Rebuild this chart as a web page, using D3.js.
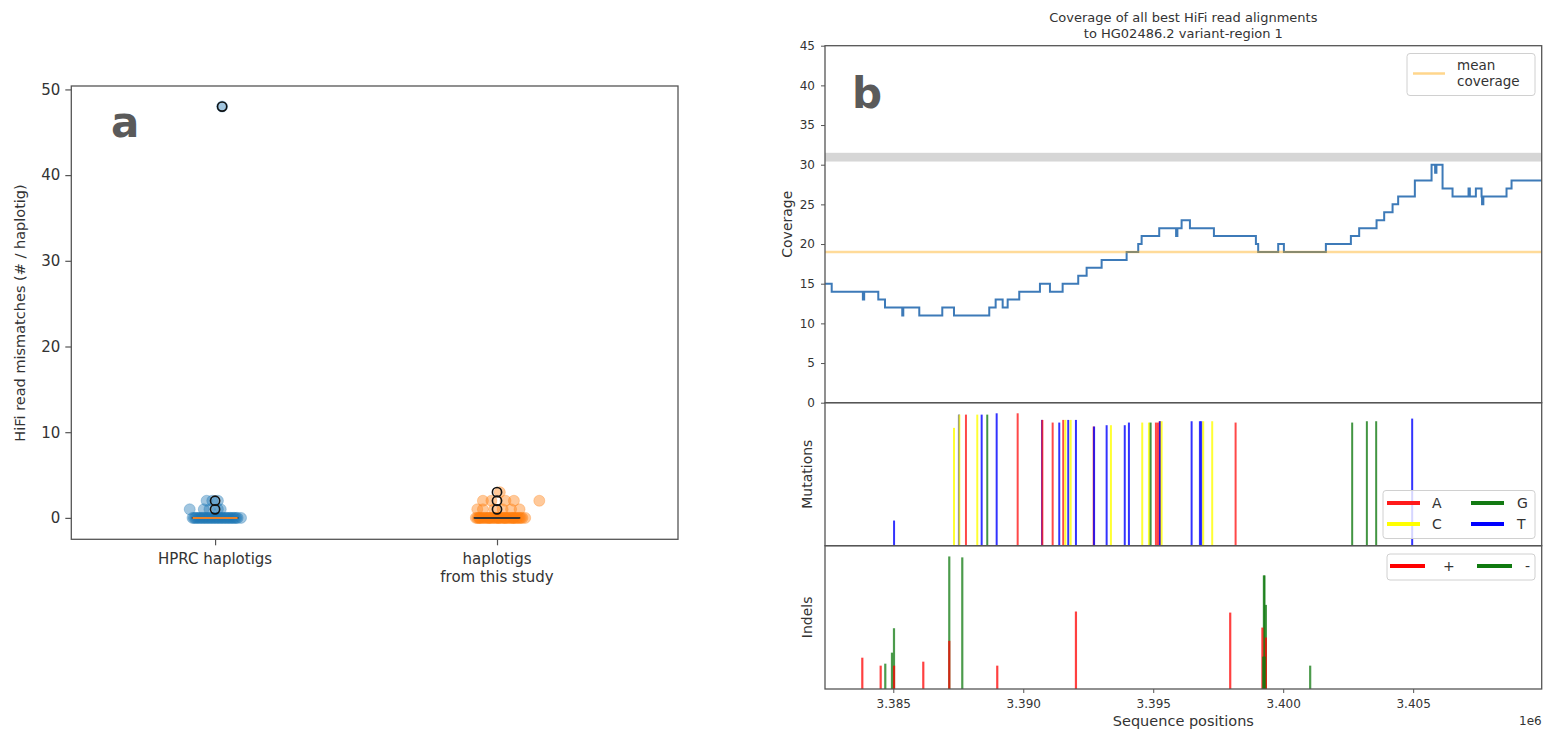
<!DOCTYPE html>
<html><head><meta charset="utf-8">
<script src="https://cdn.jsdelivr.net/npm/d3@7"></script>
<style>
body{margin:0;background:#fff}
svg{display:block}
text{font-family:"DejaVu Sans",sans-serif;fill:#333}
</style>
</head><body>
<svg id="c" width="1554" height="732"></svg>
<script>
// ---------- Panel a data ----------
const groups = ["HPRC haplotigs", "haplotigs\nfrom this study"];
const hprcValues = [0,0,0,0,0,0,0,0,0,0,0,0,0,0,0,0,0,0,0,0,0,0,0,0,0,0,0,0,0,0,0,0,0,0, 1,1,1,1,1, 2,2,2, 48];
const hprcJitter = [-0.08,-0.07,-0.06,-0.05,-0.04,-0.035,-0.03,-0.02,-0.015,-0.01,-0.005,0,0.005,0.01,0.015,0.02,0.025,0.03,0.04,0.045,0.05,0.06,0.07,0.08,0.092,-0.065,0.035,-0.025,-0.045,0.055,-0.055,0.065,0.075,-0.075, -0.09,-0.04,-0.02,0.01,0.02, -0.03,-0.01,0.01, 0.025];
const studyValues = [0,0,0,0,0,0,0,0,0,0,0,0,0,0,0,0,0,0,0,0,0,0,0,0,0,0,0,0,0,0,0,0,0,0,0,0,0,0,0,0, 1,1,1,1,1,1, 2,2,2,2,2, 3];
const studyJitter = [-0.07,-0.065,-0.06,-0.05,-0.045,-0.04,-0.03,-0.025,-0.02,-0.01,-0.005,0,0.005,0.01,0.015,0.02,0.03,0.035,0.04,0.05,0.055,0.06,0.065,0.07,-0.055,-0.015,0.025,0.045,-0.035,0.075,0.08,0.09,0.1,0.005,-0.075,0.085,-0.062,0.058,-0.028,0.028, -0.07,-0.05,-0.01,0.02,0.05,0.08, -0.05,-0.02,0.03,0.06,0.15, 0.01];
const hprcFliers = [48, 2, 1];
const hprcFlierJitter = [0.025, 0, 0];
const studyFliers = [3, 2, 1];
const studyFlierJitter = [0, 0, 0];
const aTicks = [0, 10, 20, 30, 40, 50];

// ---------- Panel b data ----------
const covStart = [3382373,3382631,3383830,3383880,3384423,3384681,3385345,3385385,3386000,3386885,3387335,3388692,3388938,3389208,3389400,3389846,3390642,3391027,3391515,3392115,3392438,3393015,3393977,3394423,3394554,3395231,3395880,3395930,3396092,3396412,3397335,3398950,3399038,3399808,3400027,3401642,3402604,3402923,3403592,3403885,3404208,3404423,3405065,3405708,3405845,3405895,3406131,3406515,3407130,3407180,3407412,3407631,3407650,3407700,3408592,3408785,3409945];
const covValue = [15,14,13,14,13,12,11,12,11,12,11,12,13,12,13,14,15,14,15,16,17,18,19,20,21,22,21,22,23,22,21,20,19,20,19,20,21,22,23,24,25,26,28,30,29,30,27,26,27,26,27,26,25,26,27,28,28];
const meanCoverage = 19;
const grayBand = [30.4, 31.5];
const covTicks = [0,5,10,15,20,25,30,35,40,45];
const xDomain = [3382373, 3409945];
const xTicks = [3385000, 3390000, 3395000, 3400000, 3405000];

const mutPos = [3385030,3387335,3387525,3387540,3387796,3388231,3388400,3388615,3388977,3389785,3390720,3390735,3391131,3391385,3391538,3391620,3391731,3391823,3392027,3392710,3392725,3393208,3393373,3393905,3394065,3394577,3394835,3394900,3395104,3395180,3395250,3395258,3395323,3396477,3396796,3396850,3396923,3397269,3398169,3402654,3403219,3403577,3404962];
const mutBase = ["T","C","T","C","A","C","T","G","T","A","T","A","A","T","A","C","T","C","T","A","T","T","C","T","T","C","C","G","A","A","A","T","C","T","T","T","C","C","A","G","G","G","T"];
const mutValue = [0.19,0.89,0.99,0.99,0.99,0.99,0.99,0.99,1.0,1.0,0.95,0.95,0.93,0.93,0.95,0.95,0.95,0.95,0.95,0.90,0.90,0.91,0.91,0.91,0.93,0.93,0.93,0.93,0.93,0.93,0.94,0.94,0.94,0.94,0.94,0.94,0.94,0.94,0.93,0.93,0.94,0.94,0.96];
const baseNames = ["A","C","G","T"];

const indelPos = [3383808,3384515,3384692,3384950,3385027,3385030,3386154,3387154,3387154,3387654,3389000,3392027,3397962,3399258,3399280,3399200,3399230,3399335,3399335,3399290,3401038];
const indelType = ["+","+","-","-","-","+","+","-","+","-","+","+","+","-","-","+","-","-","+","-","-"];
const indelValue = [0.236,0.176,0.191,0.274,0.458,0.176,0.206,0.999,0.363,0.992,0.176,0.584,0.576,0.856,0.856,0.463,0.244,0.634,0.388,0.244,0.176];
const indelNames = ["+","-"];

// ---------- drawing ----------
const svg = d3.select("#c");
const FONT = '"DejaVu Sans",sans-serif';
const spine = "#555";

// ===== Panel a =====
const aBox = {l:71.3, r:678, t:86, b:539.3};
const xa = d3.scaleLinear().domain([0.49, 2.642]).range([aBox.l, aBox.r]);
const ya = d3.scaleLinear().domain([-2.5, 50.4]).range([aBox.b, aBox.t]);
const ga = svg.append("g");

function drawGroup(vals, jit, idx, color) {
  ga.append("g").selectAll("circle").data(vals).join("circle")
    .attr("cx", (d,i)=>xa(idx + jit[i])).attr("cy", d=>ya(d)).attr("r", 5.5)
    .attr("fill", color).attr("fill-opacity", 0.42).attr("stroke", color).attr("stroke-opacity", 0.3);
}
drawGroup(hprcValues, hprcJitter, 1, "#1f77b4");
drawGroup(studyValues, studyJitter, 2, "#ff7f0e");

function drawBox(vals, idx, fl, flj, medColor) {
  const s = vals.slice().sort(d3.ascending);
  const q1 = d3.quantile(s, 0.25), q3 = d3.quantile(s, 0.75), med = d3.quantile(s, 0.5);
  ga.append("rect").attr("x", xa(idx-0.08)).attr("width", xa(idx+0.08)-xa(idx-0.08))
    .attr("y", ya(q3)).attr("height", Math.max(0.01, ya(q1)-ya(q3)))
    .attr("fill", "none").attr("stroke", "#222").attr("stroke-width", 1.5);
  ga.append("line").attr("x1", xa(idx-0.08)).attr("x2", xa(idx+0.08))
    .attr("y1", ya(med)).attr("y2", ya(med)).attr("stroke", medColor).attr("stroke-width", 2);
  ga.append("g").selectAll("circle").data(fl).join("circle")
    .attr("cx", (d,i)=>xa(idx + flj[i])).attr("cy", d=>ya(d)).attr("r", 4.6)
    .attr("fill", "none").attr("stroke", "#111").attr("stroke-width", 1.6);
}
drawBox(hprcValues, 1, hprcFliers, hprcFlierJitter, "#e8822a");
drawBox(studyValues, 2, studyFliers, studyFlierJitter, "#333");

ga.append("rect").attr("x", aBox.l).attr("y", aBox.t).attr("width", aBox.r-aBox.l).attr("height", aBox.b-aBox.t)
  .attr("fill", "none").attr("stroke", spine).attr("stroke-width", 1.3);

const ayAxis = ga.append("g").attr("transform", `translate(${aBox.l},0)`)
  .call(d3.axisLeft(ya).tickValues(aTicks).tickSize(6).tickPadding(5));
ayAxis.select(".domain").remove();
ayAxis.selectAll("line").attr("stroke", spine).attr("stroke-width", 1.2);
ayAxis.selectAll("text").style("font-family", FONT).style("font-size", "15px").attr("fill", "#333");

const axAxis = ga.append("g").attr("transform", `translate(0,${aBox.b})`)
  .call(d3.axisBottom(xa).tickValues([1,2]).tickSize(6).tickFormat(""));
axAxis.select(".domain").remove();
axAxis.selectAll("line").attr("stroke", spine).attr("stroke-width", 1.2);
groups.forEach((g, i) => {
  const t = ga.append("text").attr("x", xa(i+1)).attr("y", 564).attr("text-anchor", "middle")
    .style("font-size", "15px");
  g.split("\n").forEach((ln, j) => t.append("tspan").attr("x", xa(i+1)).attr("dy", j ? 18 : 0).text(ln));
});
ga.append("text").attr("transform", "translate(25,313) rotate(-90)").attr("text-anchor", "middle")
  .style("font-size", "14.5px").text("HiFi read mismatches (# / haplotig)");
ga.append("text").attr("x", 111).attr("y", 137).style("font-size", "42px").style("font-weight", "bold")
  .style("fill", "#5a5a5a").text("a");

// ===== Panel b =====
const bL = 825, bR = 1541.7;
const cov = {t:45.7, b:402.7}, mut = {t:402.7, b:545.7}, ind = {t:545.7, b:689};
const xb = d3.scaleLinear().domain(xDomain).range([bL, bR]);
const yc = d3.scaleLinear().domain([0, 45]).range([cov.b, cov.t]);
const ym = d3.scaleLinear().domain([0, 1.08]).range([mut.b, mut.t]);
const yi = d3.scaleLinear().domain([0, 1.08]).range([ind.b, ind.t]);
const gb = svg.append("g");

// gray band
gb.append("rect").attr("x", bL).attr("width", bR-bL)
  .attr("y", yc(grayBand[1])).attr("height", yc(grayBand[0]) - yc(grayBand[1])).attr("fill", "#d6d6d6");

// coverage step line
const covData = covStart.map((p, i) => ({p, v: covValue[i]}));
gb.append("path").datum(covData)
  .attr("d", d3.line().x(d=>xb(d.p)).y(d=>yc(d.v)).curve(d3.curveStepAfter))
  .attr("fill", "none").attr("stroke", "#3d7ab8").attr("stroke-width", 2);
// mean coverage line
gb.append("line").attr("x1", bL).attr("x2", bR).attr("y1", yc(meanCoverage)).attr("y2", yc(meanCoverage))
  .attr("stroke", "orange").attr("stroke-opacity", 0.4).attr("stroke-width", 2.5);

// mutations
const baseColor = d3.scaleOrdinal().domain(baseNames).range(["#ff1a1a", "#ffff00", "#137a13", "#0000ff"]);
gb.append("g").selectAll("line").data(mutPos).join("line")
  .attr("x1", d=>xb(d)).attr("x2", d=>xb(d))
  .attr("y1", ym(0)).attr("y2", (d,i)=>ym(mutValue[i]))
  .attr("stroke", (d,i)=>baseColor(mutBase[i])).attr("stroke-opacity", 0.8).attr("stroke-width", 2);

// indels
const indelColor = d3.scaleOrdinal().domain(indelNames).range(["#ff0000", "#107a10"]);
gb.append("g").selectAll("line").data(indelPos).join("line")
  .attr("x1", d=>xb(d)).attr("x2", d=>xb(d))
  .attr("y1", yi(0)).attr("y2", (d,i)=>yi(indelValue[i]))
  .attr("stroke", (d,i)=>indelColor(indelType[i])).attr("stroke-opacity", 0.75).attr("stroke-width", 2.2);

// frames
[cov, mut, ind].forEach(p => {
  gb.append("rect").attr("x", bL).attr("y", p.t).attr("width", bR-bL).attr("height", p.b-p.t)
    .attr("fill", "none").attr("stroke", spine).attr("stroke-width", 1.3);
});

// coverage y axis
const cyAxis = gb.append("g").attr("transform", `translate(${bL},0)`)
  .call(d3.axisLeft(yc).tickValues(covTicks).tickSize(4).tickPadding(6));
cyAxis.select(".domain").remove();
cyAxis.selectAll("line").attr("stroke", spine);
cyAxis.selectAll("text").style("font-family", FONT).style("font-size", "12px").attr("fill", "#333");

// x axis (bottom)
const bxAxis = gb.append("g").attr("transform", `translate(0,${ind.b})`)
  .call(d3.axisBottom(xb).tickValues(xTicks).tickSize(4).tickPadding(6).tickFormat(d => (d/1e6).toFixed(3)));
bxAxis.select(".domain").remove();
bxAxis.selectAll("line").attr("stroke", spine);
bxAxis.selectAll("text").style("font-family", FONT).style("font-size", "12px").attr("fill", "#333");

// labels
gb.append("text").attr("x", (bL+bR)/2).attr("y", 22).attr("text-anchor", "middle").style("font-size", "13px")
  .text("Coverage of all best HiFi read alignments");
gb.append("text").attr("x", (bL+bR)/2).attr("y", 38).attr("text-anchor", "middle").style("font-size", "13px")
  .text("to HG02486.2 variant-region 1");
gb.append("text").attr("transform", `translate(792,${(cov.t+cov.b)/2}) rotate(-90)`).attr("text-anchor", "middle")
  .style("font-size", "14px").text("Coverage");
gb.append("text").attr("transform", `translate(812,${(mut.t+mut.b)/2}) rotate(-90)`).attr("text-anchor", "middle")
  .style("font-size", "14px").text("Mutations");
gb.append("text").attr("transform", `translate(812,${(ind.t+ind.b)/2}) rotate(-90)`).attr("text-anchor", "middle")
  .style("font-size", "14px").text("Indels");
gb.append("text").attr("x", (bL+bR)/2).attr("y", 726).attr("text-anchor", "middle").style("font-size", "14.5px")
  .text("Sequence positions");
gb.append("text").attr("x", bR).attr("y", 725).attr("text-anchor", "end").style("font-size", "12px").text("1e6");
gb.append("text").attr("x", 852).attr("y", 108).style("font-size", "42px").style("font-weight", "bold")
  .style("fill", "#5a5a5a").text("b");

// legends
function legendBox(x, y, w, h) {
  gb.append("rect").attr("x", x).attr("y", y).attr("width", w).attr("height", h).attr("rx", 3)
    .attr("fill", "#fff").attr("fill-opacity", 0.8).attr("stroke", "#d0d0d0");
}
// mean coverage legend
legendBox(1407, 53.5, 128, 42);
gb.append("line").attr("x1", 1413).attr("x2", 1445).attr("y1", 73.5).attr("y2", 73.5)
  .attr("stroke", "orange").attr("stroke-opacity", 0.45).attr("stroke-width", 2.5);
gb.append("text").attr("x", 1457).attr("y", 70).style("font-size", "13.5px").text("mean");
gb.append("text").attr("x", 1457).attr("y", 86).style("font-size", "13.5px").text("coverage");

// mutation legend
legendBox(1383, 490.5, 152, 48);
const mutLegCol = [{x:1387, tx:1432}, {x:1471, tx:1517}];
const mutLegRow = [503, 524];
const mutLegOrder = [["A",0,0],["C",0,1],["G",1,0],["T",1,1]];
mutLegOrder.forEach(([b, c, r]) => {
  gb.append("line").attr("x1", mutLegCol[c].x).attr("x2", mutLegCol[c].x+33)
    .attr("y1", mutLegRow[r]).attr("y2", mutLegRow[r])
    .attr("stroke", baseColor(b)).attr("stroke-width", 4);
  gb.append("text").attr("x", mutLegCol[c].tx).attr("y", mutLegRow[r]+5).style("font-size", "14px").text(b);
});

// indel legend
legendBox(1387, 554, 148, 26);
[["+", 1390, 1443], ["-", 1477, 1525]].forEach(([n, x, tx]) => {
  gb.append("line").attr("x1", x).attr("x2", x+35).attr("y1", 566).attr("y2", 566)
    .attr("stroke", indelColor(n)).attr("stroke-width", 4);
  gb.append("text").attr("x", tx).attr("y", 571).style("font-size", "14px").text(n);
});
</script>
</body></html>
